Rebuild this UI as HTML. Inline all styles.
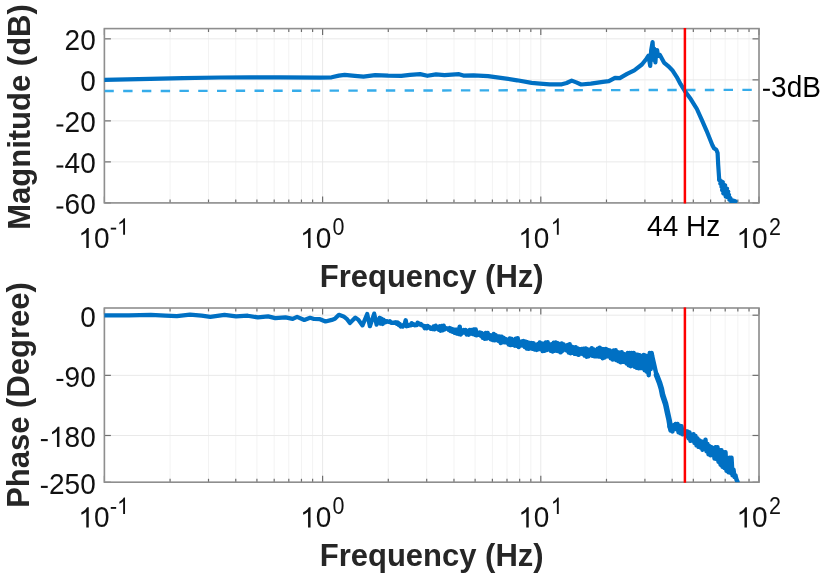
<!DOCTYPE html>
<html><head><meta charset="utf-8"><style>
html,body{margin:0;padding:0;background:#fff;width:827px;height:579px;overflow:hidden}
svg{display:block;will-change:transform}
text{font-family:"Liberation Sans",sans-serif;fill:#1a1a1a}
.tk{font-size:28px}
.sup{font-size:21px}
.lb{font-size:31px;font-weight:bold;fill:#262626}
.an{font-size:28px;fill:#000}
</style></head><body>
<svg width="827" height="579" viewBox="0 0 827 579">
<line x1="170.08" y1="28.60" x2="170.08" y2="202.90" stroke="#f3f3f3" stroke-width="1" />
<line x1="208.51" y1="28.60" x2="208.51" y2="202.90" stroke="#f3f3f3" stroke-width="1" />
<line x1="235.77" y1="28.60" x2="235.77" y2="202.90" stroke="#f3f3f3" stroke-width="1" />
<line x1="256.92" y1="28.60" x2="256.92" y2="202.90" stroke="#f3f3f3" stroke-width="1" />
<line x1="274.19" y1="28.60" x2="274.19" y2="202.90" stroke="#f3f3f3" stroke-width="1" />
<line x1="288.80" y1="28.60" x2="288.80" y2="202.90" stroke="#f3f3f3" stroke-width="1" />
<line x1="301.45" y1="28.60" x2="301.45" y2="202.90" stroke="#f3f3f3" stroke-width="1" />
<line x1="312.62" y1="28.60" x2="312.62" y2="202.90" stroke="#f3f3f3" stroke-width="1" />
<line x1="388.28" y1="28.60" x2="388.28" y2="202.90" stroke="#f3f3f3" stroke-width="1" />
<line x1="426.71" y1="28.60" x2="426.71" y2="202.90" stroke="#f3f3f3" stroke-width="1" />
<line x1="453.97" y1="28.60" x2="453.97" y2="202.90" stroke="#f3f3f3" stroke-width="1" />
<line x1="475.12" y1="28.60" x2="475.12" y2="202.90" stroke="#f3f3f3" stroke-width="1" />
<line x1="492.39" y1="28.60" x2="492.39" y2="202.90" stroke="#f3f3f3" stroke-width="1" />
<line x1="507.00" y1="28.60" x2="507.00" y2="202.90" stroke="#f3f3f3" stroke-width="1" />
<line x1="519.65" y1="28.60" x2="519.65" y2="202.90" stroke="#f3f3f3" stroke-width="1" />
<line x1="530.82" y1="28.60" x2="530.82" y2="202.90" stroke="#f3f3f3" stroke-width="1" />
<line x1="606.48" y1="28.60" x2="606.48" y2="202.90" stroke="#f3f3f3" stroke-width="1" />
<line x1="644.91" y1="28.60" x2="644.91" y2="202.90" stroke="#f3f3f3" stroke-width="1" />
<line x1="672.17" y1="28.60" x2="672.17" y2="202.90" stroke="#f3f3f3" stroke-width="1" />
<line x1="693.32" y1="28.60" x2="693.32" y2="202.90" stroke="#f3f3f3" stroke-width="1" />
<line x1="710.59" y1="28.60" x2="710.59" y2="202.90" stroke="#f3f3f3" stroke-width="1" />
<line x1="725.20" y1="28.60" x2="725.20" y2="202.90" stroke="#f3f3f3" stroke-width="1" />
<line x1="737.85" y1="28.60" x2="737.85" y2="202.90" stroke="#f3f3f3" stroke-width="1" />
<line x1="749.02" y1="28.60" x2="749.02" y2="202.90" stroke="#f3f3f3" stroke-width="1" />
<line x1="104.40" y1="28.60" x2="104.40" y2="202.90" stroke="#e9e9e9" stroke-width="1" />
<line x1="322.60" y1="28.60" x2="322.60" y2="202.90" stroke="#e9e9e9" stroke-width="1" />
<line x1="540.80" y1="28.60" x2="540.80" y2="202.90" stroke="#e9e9e9" stroke-width="1" />
<line x1="759.00" y1="28.60" x2="759.00" y2="202.90" stroke="#e9e9e9" stroke-width="1" />
<line x1="104.40" y1="38.85" x2="759.00" y2="38.85" stroke="#e9e9e9" stroke-width="1" />
<line x1="104.40" y1="79.86" x2="759.00" y2="79.86" stroke="#e9e9e9" stroke-width="1" />
<line x1="104.40" y1="120.88" x2="759.00" y2="120.88" stroke="#e9e9e9" stroke-width="1" />
<line x1="104.40" y1="161.89" x2="759.00" y2="161.89" stroke="#e9e9e9" stroke-width="1" />
<line x1="104.40" y1="202.90" x2="759.00" y2="202.90" stroke="#e9e9e9" stroke-width="1" />
<line x1="170.08" y1="308.00" x2="170.08" y2="482.20" stroke="#f3f3f3" stroke-width="1" />
<line x1="208.51" y1="308.00" x2="208.51" y2="482.20" stroke="#f3f3f3" stroke-width="1" />
<line x1="235.77" y1="308.00" x2="235.77" y2="482.20" stroke="#f3f3f3" stroke-width="1" />
<line x1="256.92" y1="308.00" x2="256.92" y2="482.20" stroke="#f3f3f3" stroke-width="1" />
<line x1="274.19" y1="308.00" x2="274.19" y2="482.20" stroke="#f3f3f3" stroke-width="1" />
<line x1="288.80" y1="308.00" x2="288.80" y2="482.20" stroke="#f3f3f3" stroke-width="1" />
<line x1="301.45" y1="308.00" x2="301.45" y2="482.20" stroke="#f3f3f3" stroke-width="1" />
<line x1="312.62" y1="308.00" x2="312.62" y2="482.20" stroke="#f3f3f3" stroke-width="1" />
<line x1="388.28" y1="308.00" x2="388.28" y2="482.20" stroke="#f3f3f3" stroke-width="1" />
<line x1="426.71" y1="308.00" x2="426.71" y2="482.20" stroke="#f3f3f3" stroke-width="1" />
<line x1="453.97" y1="308.00" x2="453.97" y2="482.20" stroke="#f3f3f3" stroke-width="1" />
<line x1="475.12" y1="308.00" x2="475.12" y2="482.20" stroke="#f3f3f3" stroke-width="1" />
<line x1="492.39" y1="308.00" x2="492.39" y2="482.20" stroke="#f3f3f3" stroke-width="1" />
<line x1="507.00" y1="308.00" x2="507.00" y2="482.20" stroke="#f3f3f3" stroke-width="1" />
<line x1="519.65" y1="308.00" x2="519.65" y2="482.20" stroke="#f3f3f3" stroke-width="1" />
<line x1="530.82" y1="308.00" x2="530.82" y2="482.20" stroke="#f3f3f3" stroke-width="1" />
<line x1="606.48" y1="308.00" x2="606.48" y2="482.20" stroke="#f3f3f3" stroke-width="1" />
<line x1="644.91" y1="308.00" x2="644.91" y2="482.20" stroke="#f3f3f3" stroke-width="1" />
<line x1="672.17" y1="308.00" x2="672.17" y2="482.20" stroke="#f3f3f3" stroke-width="1" />
<line x1="693.32" y1="308.00" x2="693.32" y2="482.20" stroke="#f3f3f3" stroke-width="1" />
<line x1="710.59" y1="308.00" x2="710.59" y2="482.20" stroke="#f3f3f3" stroke-width="1" />
<line x1="725.20" y1="308.00" x2="725.20" y2="482.20" stroke="#f3f3f3" stroke-width="1" />
<line x1="737.85" y1="308.00" x2="737.85" y2="482.20" stroke="#f3f3f3" stroke-width="1" />
<line x1="749.02" y1="308.00" x2="749.02" y2="482.20" stroke="#f3f3f3" stroke-width="1" />
<line x1="104.40" y1="308.00" x2="104.40" y2="482.20" stroke="#e9e9e9" stroke-width="1" />
<line x1="322.60" y1="308.00" x2="322.60" y2="482.20" stroke="#e9e9e9" stroke-width="1" />
<line x1="540.80" y1="308.00" x2="540.80" y2="482.20" stroke="#e9e9e9" stroke-width="1" />
<line x1="759.00" y1="308.00" x2="759.00" y2="482.20" stroke="#e9e9e9" stroke-width="1" />
<line x1="104.40" y1="315.20" x2="759.00" y2="315.20" stroke="#e9e9e9" stroke-width="1" />
<line x1="104.40" y1="375.35" x2="759.00" y2="375.35" stroke="#e9e9e9" stroke-width="1" />
<line x1="104.40" y1="435.49" x2="759.00" y2="435.49" stroke="#e9e9e9" stroke-width="1" />
<line x1="104.40" y1="482.27" x2="759.00" y2="482.27" stroke="#e9e9e9" stroke-width="1" />
<line x1="170.08" y1="202.90" x2="170.08" y2="199.50" stroke="#6e6e6e" stroke-width="1.2" />
<line x1="170.08" y1="28.60" x2="170.08" y2="32.00" stroke="#6e6e6e" stroke-width="1.2" />
<line x1="208.51" y1="202.90" x2="208.51" y2="199.50" stroke="#6e6e6e" stroke-width="1.2" />
<line x1="208.51" y1="28.60" x2="208.51" y2="32.00" stroke="#6e6e6e" stroke-width="1.2" />
<line x1="235.77" y1="202.90" x2="235.77" y2="199.50" stroke="#6e6e6e" stroke-width="1.2" />
<line x1="235.77" y1="28.60" x2="235.77" y2="32.00" stroke="#6e6e6e" stroke-width="1.2" />
<line x1="256.92" y1="202.90" x2="256.92" y2="199.50" stroke="#6e6e6e" stroke-width="1.2" />
<line x1="256.92" y1="28.60" x2="256.92" y2="32.00" stroke="#6e6e6e" stroke-width="1.2" />
<line x1="274.19" y1="202.90" x2="274.19" y2="199.50" stroke="#6e6e6e" stroke-width="1.2" />
<line x1="274.19" y1="28.60" x2="274.19" y2="32.00" stroke="#6e6e6e" stroke-width="1.2" />
<line x1="288.80" y1="202.90" x2="288.80" y2="199.50" stroke="#6e6e6e" stroke-width="1.2" />
<line x1="288.80" y1="28.60" x2="288.80" y2="32.00" stroke="#6e6e6e" stroke-width="1.2" />
<line x1="301.45" y1="202.90" x2="301.45" y2="199.50" stroke="#6e6e6e" stroke-width="1.2" />
<line x1="301.45" y1="28.60" x2="301.45" y2="32.00" stroke="#6e6e6e" stroke-width="1.2" />
<line x1="312.62" y1="202.90" x2="312.62" y2="199.50" stroke="#6e6e6e" stroke-width="1.2" />
<line x1="312.62" y1="28.60" x2="312.62" y2="32.00" stroke="#6e6e6e" stroke-width="1.2" />
<line x1="388.28" y1="202.90" x2="388.28" y2="199.50" stroke="#6e6e6e" stroke-width="1.2" />
<line x1="388.28" y1="28.60" x2="388.28" y2="32.00" stroke="#6e6e6e" stroke-width="1.2" />
<line x1="426.71" y1="202.90" x2="426.71" y2="199.50" stroke="#6e6e6e" stroke-width="1.2" />
<line x1="426.71" y1="28.60" x2="426.71" y2="32.00" stroke="#6e6e6e" stroke-width="1.2" />
<line x1="453.97" y1="202.90" x2="453.97" y2="199.50" stroke="#6e6e6e" stroke-width="1.2" />
<line x1="453.97" y1="28.60" x2="453.97" y2="32.00" stroke="#6e6e6e" stroke-width="1.2" />
<line x1="475.12" y1="202.90" x2="475.12" y2="199.50" stroke="#6e6e6e" stroke-width="1.2" />
<line x1="475.12" y1="28.60" x2="475.12" y2="32.00" stroke="#6e6e6e" stroke-width="1.2" />
<line x1="492.39" y1="202.90" x2="492.39" y2="199.50" stroke="#6e6e6e" stroke-width="1.2" />
<line x1="492.39" y1="28.60" x2="492.39" y2="32.00" stroke="#6e6e6e" stroke-width="1.2" />
<line x1="507.00" y1="202.90" x2="507.00" y2="199.50" stroke="#6e6e6e" stroke-width="1.2" />
<line x1="507.00" y1="28.60" x2="507.00" y2="32.00" stroke="#6e6e6e" stroke-width="1.2" />
<line x1="519.65" y1="202.90" x2="519.65" y2="199.50" stroke="#6e6e6e" stroke-width="1.2" />
<line x1="519.65" y1="28.60" x2="519.65" y2="32.00" stroke="#6e6e6e" stroke-width="1.2" />
<line x1="530.82" y1="202.90" x2="530.82" y2="199.50" stroke="#6e6e6e" stroke-width="1.2" />
<line x1="530.82" y1="28.60" x2="530.82" y2="32.00" stroke="#6e6e6e" stroke-width="1.2" />
<line x1="606.48" y1="202.90" x2="606.48" y2="199.50" stroke="#6e6e6e" stroke-width="1.2" />
<line x1="606.48" y1="28.60" x2="606.48" y2="32.00" stroke="#6e6e6e" stroke-width="1.2" />
<line x1="644.91" y1="202.90" x2="644.91" y2="199.50" stroke="#6e6e6e" stroke-width="1.2" />
<line x1="644.91" y1="28.60" x2="644.91" y2="32.00" stroke="#6e6e6e" stroke-width="1.2" />
<line x1="672.17" y1="202.90" x2="672.17" y2="199.50" stroke="#6e6e6e" stroke-width="1.2" />
<line x1="672.17" y1="28.60" x2="672.17" y2="32.00" stroke="#6e6e6e" stroke-width="1.2" />
<line x1="693.32" y1="202.90" x2="693.32" y2="199.50" stroke="#6e6e6e" stroke-width="1.2" />
<line x1="693.32" y1="28.60" x2="693.32" y2="32.00" stroke="#6e6e6e" stroke-width="1.2" />
<line x1="710.59" y1="202.90" x2="710.59" y2="199.50" stroke="#6e6e6e" stroke-width="1.2" />
<line x1="710.59" y1="28.60" x2="710.59" y2="32.00" stroke="#6e6e6e" stroke-width="1.2" />
<line x1="725.20" y1="202.90" x2="725.20" y2="199.50" stroke="#6e6e6e" stroke-width="1.2" />
<line x1="725.20" y1="28.60" x2="725.20" y2="32.00" stroke="#6e6e6e" stroke-width="1.2" />
<line x1="737.85" y1="202.90" x2="737.85" y2="199.50" stroke="#6e6e6e" stroke-width="1.2" />
<line x1="737.85" y1="28.60" x2="737.85" y2="32.00" stroke="#6e6e6e" stroke-width="1.2" />
<line x1="749.02" y1="202.90" x2="749.02" y2="199.50" stroke="#6e6e6e" stroke-width="1.2" />
<line x1="749.02" y1="28.60" x2="749.02" y2="32.00" stroke="#6e6e6e" stroke-width="1.2" />
<line x1="104.40" y1="202.90" x2="104.40" y2="196.40" stroke="#6e6e6e" stroke-width="1.2" />
<line x1="104.40" y1="28.60" x2="104.40" y2="35.10" stroke="#6e6e6e" stroke-width="1.2" />
<line x1="322.60" y1="202.90" x2="322.60" y2="196.40" stroke="#6e6e6e" stroke-width="1.2" />
<line x1="322.60" y1="28.60" x2="322.60" y2="35.10" stroke="#6e6e6e" stroke-width="1.2" />
<line x1="540.80" y1="202.90" x2="540.80" y2="196.40" stroke="#6e6e6e" stroke-width="1.2" />
<line x1="540.80" y1="28.60" x2="540.80" y2="35.10" stroke="#6e6e6e" stroke-width="1.2" />
<line x1="759.00" y1="202.90" x2="759.00" y2="196.40" stroke="#6e6e6e" stroke-width="1.2" />
<line x1="759.00" y1="28.60" x2="759.00" y2="35.10" stroke="#6e6e6e" stroke-width="1.2" />
<line x1="104.40" y1="38.85" x2="110.90" y2="38.85" stroke="#6e6e6e" stroke-width="1.2" />
<line x1="759.00" y1="38.85" x2="752.50" y2="38.85" stroke="#6e6e6e" stroke-width="1.2" />
<line x1="104.40" y1="79.86" x2="110.90" y2="79.86" stroke="#6e6e6e" stroke-width="1.2" />
<line x1="759.00" y1="79.86" x2="752.50" y2="79.86" stroke="#6e6e6e" stroke-width="1.2" />
<line x1="104.40" y1="120.88" x2="110.90" y2="120.88" stroke="#6e6e6e" stroke-width="1.2" />
<line x1="759.00" y1="120.88" x2="752.50" y2="120.88" stroke="#6e6e6e" stroke-width="1.2" />
<line x1="104.40" y1="161.89" x2="110.90" y2="161.89" stroke="#6e6e6e" stroke-width="1.2" />
<line x1="759.00" y1="161.89" x2="752.50" y2="161.89" stroke="#6e6e6e" stroke-width="1.2" />
<line x1="104.40" y1="202.90" x2="110.90" y2="202.90" stroke="#6e6e6e" stroke-width="1.2" />
<line x1="759.00" y1="202.90" x2="752.50" y2="202.90" stroke="#6e6e6e" stroke-width="1.2" />
<rect x="104.40" y="28.60" width="654.60" height="174.30" fill="none" stroke="#8e8e8e" stroke-width="1.6"/>
<line x1="170.08" y1="482.20" x2="170.08" y2="478.80" stroke="#6e6e6e" stroke-width="1.2" />
<line x1="170.08" y1="308.00" x2="170.08" y2="311.40" stroke="#6e6e6e" stroke-width="1.2" />
<line x1="208.51" y1="482.20" x2="208.51" y2="478.80" stroke="#6e6e6e" stroke-width="1.2" />
<line x1="208.51" y1="308.00" x2="208.51" y2="311.40" stroke="#6e6e6e" stroke-width="1.2" />
<line x1="235.77" y1="482.20" x2="235.77" y2="478.80" stroke="#6e6e6e" stroke-width="1.2" />
<line x1="235.77" y1="308.00" x2="235.77" y2="311.40" stroke="#6e6e6e" stroke-width="1.2" />
<line x1="256.92" y1="482.20" x2="256.92" y2="478.80" stroke="#6e6e6e" stroke-width="1.2" />
<line x1="256.92" y1="308.00" x2="256.92" y2="311.40" stroke="#6e6e6e" stroke-width="1.2" />
<line x1="274.19" y1="482.20" x2="274.19" y2="478.80" stroke="#6e6e6e" stroke-width="1.2" />
<line x1="274.19" y1="308.00" x2="274.19" y2="311.40" stroke="#6e6e6e" stroke-width="1.2" />
<line x1="288.80" y1="482.20" x2="288.80" y2="478.80" stroke="#6e6e6e" stroke-width="1.2" />
<line x1="288.80" y1="308.00" x2="288.80" y2="311.40" stroke="#6e6e6e" stroke-width="1.2" />
<line x1="301.45" y1="482.20" x2="301.45" y2="478.80" stroke="#6e6e6e" stroke-width="1.2" />
<line x1="301.45" y1="308.00" x2="301.45" y2="311.40" stroke="#6e6e6e" stroke-width="1.2" />
<line x1="312.62" y1="482.20" x2="312.62" y2="478.80" stroke="#6e6e6e" stroke-width="1.2" />
<line x1="312.62" y1="308.00" x2="312.62" y2="311.40" stroke="#6e6e6e" stroke-width="1.2" />
<line x1="388.28" y1="482.20" x2="388.28" y2="478.80" stroke="#6e6e6e" stroke-width="1.2" />
<line x1="388.28" y1="308.00" x2="388.28" y2="311.40" stroke="#6e6e6e" stroke-width="1.2" />
<line x1="426.71" y1="482.20" x2="426.71" y2="478.80" stroke="#6e6e6e" stroke-width="1.2" />
<line x1="426.71" y1="308.00" x2="426.71" y2="311.40" stroke="#6e6e6e" stroke-width="1.2" />
<line x1="453.97" y1="482.20" x2="453.97" y2="478.80" stroke="#6e6e6e" stroke-width="1.2" />
<line x1="453.97" y1="308.00" x2="453.97" y2="311.40" stroke="#6e6e6e" stroke-width="1.2" />
<line x1="475.12" y1="482.20" x2="475.12" y2="478.80" stroke="#6e6e6e" stroke-width="1.2" />
<line x1="475.12" y1="308.00" x2="475.12" y2="311.40" stroke="#6e6e6e" stroke-width="1.2" />
<line x1="492.39" y1="482.20" x2="492.39" y2="478.80" stroke="#6e6e6e" stroke-width="1.2" />
<line x1="492.39" y1="308.00" x2="492.39" y2="311.40" stroke="#6e6e6e" stroke-width="1.2" />
<line x1="507.00" y1="482.20" x2="507.00" y2="478.80" stroke="#6e6e6e" stroke-width="1.2" />
<line x1="507.00" y1="308.00" x2="507.00" y2="311.40" stroke="#6e6e6e" stroke-width="1.2" />
<line x1="519.65" y1="482.20" x2="519.65" y2="478.80" stroke="#6e6e6e" stroke-width="1.2" />
<line x1="519.65" y1="308.00" x2="519.65" y2="311.40" stroke="#6e6e6e" stroke-width="1.2" />
<line x1="530.82" y1="482.20" x2="530.82" y2="478.80" stroke="#6e6e6e" stroke-width="1.2" />
<line x1="530.82" y1="308.00" x2="530.82" y2="311.40" stroke="#6e6e6e" stroke-width="1.2" />
<line x1="606.48" y1="482.20" x2="606.48" y2="478.80" stroke="#6e6e6e" stroke-width="1.2" />
<line x1="606.48" y1="308.00" x2="606.48" y2="311.40" stroke="#6e6e6e" stroke-width="1.2" />
<line x1="644.91" y1="482.20" x2="644.91" y2="478.80" stroke="#6e6e6e" stroke-width="1.2" />
<line x1="644.91" y1="308.00" x2="644.91" y2="311.40" stroke="#6e6e6e" stroke-width="1.2" />
<line x1="672.17" y1="482.20" x2="672.17" y2="478.80" stroke="#6e6e6e" stroke-width="1.2" />
<line x1="672.17" y1="308.00" x2="672.17" y2="311.40" stroke="#6e6e6e" stroke-width="1.2" />
<line x1="693.32" y1="482.20" x2="693.32" y2="478.80" stroke="#6e6e6e" stroke-width="1.2" />
<line x1="693.32" y1="308.00" x2="693.32" y2="311.40" stroke="#6e6e6e" stroke-width="1.2" />
<line x1="710.59" y1="482.20" x2="710.59" y2="478.80" stroke="#6e6e6e" stroke-width="1.2" />
<line x1="710.59" y1="308.00" x2="710.59" y2="311.40" stroke="#6e6e6e" stroke-width="1.2" />
<line x1="725.20" y1="482.20" x2="725.20" y2="478.80" stroke="#6e6e6e" stroke-width="1.2" />
<line x1="725.20" y1="308.00" x2="725.20" y2="311.40" stroke="#6e6e6e" stroke-width="1.2" />
<line x1="737.85" y1="482.20" x2="737.85" y2="478.80" stroke="#6e6e6e" stroke-width="1.2" />
<line x1="737.85" y1="308.00" x2="737.85" y2="311.40" stroke="#6e6e6e" stroke-width="1.2" />
<line x1="749.02" y1="482.20" x2="749.02" y2="478.80" stroke="#6e6e6e" stroke-width="1.2" />
<line x1="749.02" y1="308.00" x2="749.02" y2="311.40" stroke="#6e6e6e" stroke-width="1.2" />
<line x1="104.40" y1="482.20" x2="104.40" y2="475.70" stroke="#6e6e6e" stroke-width="1.2" />
<line x1="104.40" y1="308.00" x2="104.40" y2="314.50" stroke="#6e6e6e" stroke-width="1.2" />
<line x1="322.60" y1="482.20" x2="322.60" y2="475.70" stroke="#6e6e6e" stroke-width="1.2" />
<line x1="322.60" y1="308.00" x2="322.60" y2="314.50" stroke="#6e6e6e" stroke-width="1.2" />
<line x1="540.80" y1="482.20" x2="540.80" y2="475.70" stroke="#6e6e6e" stroke-width="1.2" />
<line x1="540.80" y1="308.00" x2="540.80" y2="314.50" stroke="#6e6e6e" stroke-width="1.2" />
<line x1="759.00" y1="482.20" x2="759.00" y2="475.70" stroke="#6e6e6e" stroke-width="1.2" />
<line x1="759.00" y1="308.00" x2="759.00" y2="314.50" stroke="#6e6e6e" stroke-width="1.2" />
<line x1="104.40" y1="315.20" x2="110.90" y2="315.20" stroke="#6e6e6e" stroke-width="1.2" />
<line x1="759.00" y1="315.20" x2="752.50" y2="315.20" stroke="#6e6e6e" stroke-width="1.2" />
<line x1="104.40" y1="375.35" x2="110.90" y2="375.35" stroke="#6e6e6e" stroke-width="1.2" />
<line x1="759.00" y1="375.35" x2="752.50" y2="375.35" stroke="#6e6e6e" stroke-width="1.2" />
<line x1="104.40" y1="435.49" x2="110.90" y2="435.49" stroke="#6e6e6e" stroke-width="1.2" />
<line x1="759.00" y1="435.49" x2="752.50" y2="435.49" stroke="#6e6e6e" stroke-width="1.2" />
<line x1="104.40" y1="482.27" x2="110.90" y2="482.27" stroke="#6e6e6e" stroke-width="1.2" />
<line x1="759.00" y1="482.27" x2="752.50" y2="482.27" stroke="#6e6e6e" stroke-width="1.2" />
<rect x="104.40" y="308.00" width="654.60" height="174.20" fill="none" stroke="#8e8e8e" stroke-width="1.6"/>
<clipPath id="c1"><rect x="104.4" y="28.6" width="654.6" height="174.3"/></clipPath>
<clipPath id="c2"><rect x="104.4" y="308.0" width="654.6" height="174.2"/></clipPath>
<g clip-path="url(#c1)">
<line x1="104.4" y1="91.05" x2="759.0" y2="89.85" stroke="#36acea" stroke-width="2.4" stroke-dasharray="9.4 9.364"/>
<polyline points="104.4,79.8 150.0,78.9 183.0,78.2 220.0,77.5 250.0,77.3 280.0,77.3 320.0,77.6 331.6,77.3 338.9,75.6 344.7,74.8 354.8,75.8 363.5,76.6 375.2,75.1 388.2,75.6 401.3,75.8 410.0,74.8 420.1,74.1 427.4,75.8 436.0,74.4 444.5,75.1 459.0,74.2 463.4,75.6 473.5,75.3 488.0,76.1 502.6,78.1 517.1,80.3 531.6,82.9 540.0,83.6 549.7,84.4 561.8,84.3 566.6,83.0 571.7,80.6 576.3,82.4 581.1,84.5 590.8,83.6 602.9,81.8 608.9,81.2 615.0,77.9 619.8,78.1 627.1,73.9 634.3,70.3 641.9,64.5 646.7,58.5 648.5,55.7 650.2,66.0 651.2,50.0 652.6,42.0 653.6,60.0 654.3,48.8 655.4,62.3 656.2,52.0 657.1,50.2 658.1,56.0 659.9,55.0 664.0,62.6 668.2,66.1 672.3,70.2 676.8,77.1 680.6,84.2 684.8,90.9 690.9,99.3 696.9,109.0 701.8,119.9 706.6,130.8 710.3,140.0 712.3,145.0 714.0,148.3 716.3,149.8 717.6,153.0 718.2,165.0 719.2,179.3" fill="none" stroke="#0070c3" stroke-width="4.2" stroke-linejoin="round" stroke-linecap="round"/>
<polyline points="719.2,179.3 719.5,180.5 722.7,182.1 720.5,183.7 725.0,185.3 721.6,186.9 726.9,188.5 722.2,190.1 728.1,191.7 723.4,193.3 728.9,194.9 725.8,196.5 730.2,198.1 729.5,199.7 735.4,201.3 731.6,202.9" fill="none" stroke="#0070c3" stroke-width="4.4" stroke-linejoin="round" stroke-linecap="round"/>
</g>
<g clip-path="url(#c2)">
<polyline points="104.4,315.4 129.0,315.4 150.8,314.8 165.3,315.7 176.9,316.2 190.0,314.6 201.6,315.7 210.3,316.8 224.5,314.9 236.1,316.4 247.7,315.7 257.9,317.4 268.1,316.4 275.3,318.1 285.5,317.4 292.7,318.9 297.1,316.8 304.3,320.0 310.1,317.8 314.0,319.0 320.0,319.2 325.5,321.5 331.8,319.9 334.9,318.8 338.9,314.8 343.6,316.4 346.7,318.8 349.9,323.1 355.4,317.6 358.5,319.9 362.5,325.4 367.2,314.0 369.9,326.2 374.2,313.6 376.6,324.7 379.7,318.0" fill="none" stroke="#0070c3" stroke-width="4.2" stroke-linejoin="round" stroke-linecap="round"/>
<polyline points="379.7,318.0 379.7,320.0 380.7,323.6 381.7,319.0 382.7,323.9 383.7,320.0 384.7,322.4 385.7,322.1 386.7,321.2 387.7,321.5 388.7,321.9 389.7,321.2 390.7,322.5 391.7,322.9 392.7,322.8 393.7,322.8 394.7,322.5 395.7,322.3 396.7,323.6 397.7,322.6 398.7,324.9 399.7,324.0 400.7,326.5 401.7,325.6 402.7,326.5 403.7,324.9 404.7,324.3 405.7,320.3 406.7,326.2 407.7,325.5 408.7,325.7 409.7,324.8 410.7,325.2 411.7,323.3 412.7,324.7 413.7,324.2 414.7,325.2 415.7,325.1 416.7,325.1 417.7,322.7 418.7,323.6 419.7,324.4 420.7,323.9 421.7,325.3 422.7,325.4 423.7,325.9 424.7,328.1 425.7,326.2 426.7,328.2 427.7,326.0 428.7,327.6 429.7,327.2 430.7,328.7 431.7,328.4 432.7,329.0 433.7,326.4 434.7,329.2 435.7,325.7 436.7,328.6 437.7,327.5 438.7,329.7 439.7,326.3 440.7,330.7 441.7,325.9 442.7,330.3 443.7,325.7 444.7,329.4 445.7,328.6 446.7,328.3 447.7,328.6 448.7,329.8 449.7,328.1 450.7,331.0 451.7,328.9 452.7,331.8 453.7,329.6 454.7,332.7 455.7,329.7 456.7,333.5 457.7,329.4 458.7,334.1 459.7,326.6 460.7,334.6 461.7,332.5 462.7,332.7 463.7,330.0 464.7,332.6 465.7,330.0 466.7,334.4 467.7,331.1 468.7,334.7 469.7,330.0 470.7,333.4 471.7,330.0 472.7,333.9 473.7,329.5 474.7,334.7 475.7,329.5 476.7,335.3 477.7,333.1 478.7,334.6 479.7,332.5 480.7,335.7 481.7,333.1 482.7,337.8 483.7,334.1 484.7,338.8 485.7,333.0 486.7,338.6 487.7,332.9 488.7,337.7 489.7,335.1 490.7,339.2 491.7,335.5 492.7,340.1 493.7,334.0 494.7,340.3 495.7,335.1 496.7,340.1 497.7,336.4 498.7,341.0 499.7,336.6 500.7,343.0 501.7,336.6 502.7,342.4 503.7,337.8 504.7,342.3 505.7,339.1 506.7,342.5 507.7,339.9 508.7,344.4 509.7,338.5 510.7,345.1 511.7,339.0 512.7,344.9 513.7,340.2 514.7,345.7 515.7,338.8 516.7,345.9 517.7,338.1 518.7,347.0 519.7,341.7 520.7,345.6 521.7,341.4 522.7,345.5 523.7,341.1 524.7,347.0 525.7,341.7 526.7,348.5 527.7,342.3 528.7,348.9 529.7,343.0 530.7,348.2 531.7,343.1 532.7,348.8 533.7,343.3 534.7,349.5 535.7,345.2 536.7,349.9 537.7,344.3 538.7,349.2 539.7,342.5 540.7,349.3 541.7,343.4 542.7,351.1 543.7,343.7 544.7,350.7 545.7,342.5 546.7,350.1 547.7,342.2 548.7,349.4 549.7,344.6 550.7,350.7 551.7,344.2 552.7,351.5 553.7,342.8 554.7,350.8 555.7,342.5 556.7,350.8 557.7,343.2 558.7,351.3 559.7,344.2 560.7,352.4 561.7,343.4 562.7,350.7 563.7,344.4 564.7,349.4 565.7,346.0 566.7,350.6 567.7,345.1 568.7,352.5 569.7,344.2 570.7,353.3 571.7,346.6 572.7,352.7 573.7,347.5 574.7,353.9 575.7,347.1 576.7,354.1 577.7,348.5 578.7,354.9 579.7,349.1 580.7,353.6 581.7,349.0 582.7,354.1 583.7,348.7 584.7,355.6 585.7,348.4 586.7,356.8 587.7,349.5 588.7,356.2 589.7,349.7 590.7,354.7 591.7,348.1 592.7,355.9 593.7,349.4 594.7,356.4 595.7,350.7 596.7,356.3 597.7,348.7 598.7,356.5 599.7,347.6 600.7,356.7 601.7,349.0 602.7,358.3 603.7,349.3 604.7,357.5 605.7,349.0 606.7,356.3 607.7,349.8 608.7,356.4 609.7,350.5 610.7,358.2 611.7,351.4 612.7,359.6 613.7,350.4 614.7,359.3 615.7,350.2 616.7,360.2 617.7,352.2 618.7,361.2 619.7,352.6 620.7,362.3 621.7,352.3 622.7,361.8 623.7,354.0 624.7,362.0 625.7,354.6 626.7,363.6 627.7,352.9 628.7,365.4 629.7,352.9 630.7,366.2 631.7,353.0 632.7,365.5 633.7,353.0 634.7,366.9 635.7,354.5 636.7,367.8 637.7,354.6 638.7,368.4 639.7,355.3 640.7,368.0 641.7,356.2 642.7,368.2 643.7,355.0 644.7,370.4 645.7,355.7 646.7,371.7 647.7,357.8 648.7,375.2 649.7,353.0 650.7,369.1 651.7,353.0 652.2,356.0 654.5,366.0 656.5,375.0" fill="none" stroke="#0070c3" stroke-width="4.4" stroke-linejoin="round" stroke-linecap="round"/>
<polyline points="656.5,375.0 659.6,383.0 661.4,389.0 662.6,395.0 665.6,404.0 667.4,412.3 669.1,420.0 670.3,427.0" fill="none" stroke="#0070c3" stroke-width="5.6" stroke-linejoin="round" stroke-linecap="round"/>
<polyline points="669.5,426.2 670.5,430.4 671.5,427.4 672.5,431.4 673.5,425.3 674.5,428.8 675.5,423.9 676.5,429.3 677.5,423.9 678.5,432.3 679.5,425.6 680.5,433.3 681.5,426.3 682.5,434.2 683.5,430.0 684.5,434.2 685.5,431.0 686.5,435.9 687.5,431.5 688.5,438.3 689.5,432.5 690.5,440.9 691.5,434.9 692.5,440.5 693.5,434.2 694.5,442.9 695.5,436.0 696.5,445.4 697.5,438.4 698.5,446.9 699.5,440.5 700.5,447.5 701.5,441.4 702.5,449.7 703.5,442.4 704.5,448.6 705.5,439.6 706.5,451.4 707.5,443.9 708.5,454.3 709.5,446.1 710.5,455.2 711.5,447.1 712.5,455.1 713.5,448.2 714.5,458.5 715.5,447.2 716.5,459.0 717.5,447.2 718.5,461.9 719.5,449.9 720.5,464.7 721.5,450.3 722.5,466.9 723.5,452.1 724.5,468.0 725.5,452.1 726.5,470.8 727.5,459.8 728.5,472.2 729.5,457.7 730.5,472.9 731.5,457.7 732.5,475.3 733.5,469.6 734.5,477.0 735.5,475.4 736.5,479.8 737.5,481.8" fill="none" stroke="#0070c3" stroke-width="4.4" stroke-linejoin="round" stroke-linecap="round"/>
</g>
<line x1="684.9" y1="28.0" x2="684.9" y2="203.5" stroke="#ff0000" stroke-width="2.5"/>
<line x1="684.9" y1="307.4" x2="684.9" y2="482.8" stroke="#ff0000" stroke-width="2.5"/>
<path d="M88.75,248.10L86.29,248.10L86.29,232.42C85.70,232.98 84.92,233.55 83.97,234.11C83.00,234.67 82.13,235.10 81.37,235.39L81.37,233.01C82.75,232.36 83.95,231.57 84.98,230.65C86.00,229.74 86.74,228.84 87.16,227.98L88.75,227.98Z" fill="#111111"/>
<text x="93.89" y="0" transform="translate(0,248.10) scale(1,1.0405)" style="font-size:28.0px;fill:#111111">0</text>
<rect x="110.76" y="227.70" width="5.4" height="1.85" fill="#111111"/>
<path d="M125.03,234.80L123.14,234.80L123.14,221.95C122.69,222.41 122.09,222.88 121.36,223.34C120.61,223.80 119.95,224.15 119.36,224.38L119.36,222.44C120.42,221.91 121.35,221.26 122.14,220.51C122.92,219.76 123.49,219.02 123.82,218.31L125.03,218.31Z" fill="#111111"/>
<path d="M310.53,248.10L308.07,248.10L308.07,232.42C307.48,232.98 306.70,233.55 305.75,234.11C304.77,234.67 303.91,235.10 303.15,235.39L303.15,233.01C304.53,232.36 305.73,231.57 306.76,230.65C307.78,229.74 308.52,228.84 308.94,227.98L310.53,227.98Z" fill="#111111"/>
<text x="315.67" y="0" transform="translate(0,248.10) scale(1,1.0405)" style="font-size:28.0px;fill:#111111">0</text>
<text x="332.54" y="0" transform="translate(0,234.80) scale(1,1.11)" style="font-size:21.5px;fill:#111111">0</text>
<path d="M528.73,248.10L526.27,248.10L526.27,232.42C525.68,232.98 524.90,233.55 523.95,234.11C522.97,234.67 522.11,235.10 521.35,235.39L521.35,233.01C522.73,232.36 523.93,231.57 524.96,230.65C525.98,229.74 526.72,228.84 527.14,227.98L528.73,227.98Z" fill="#111111"/>
<text x="533.87" y="0" transform="translate(0,248.10) scale(1,1.0405)" style="font-size:28.0px;fill:#111111">0</text>
<path d="M558.75,234.80L556.86,234.80L556.86,221.95C556.41,222.41 555.81,222.88 555.08,223.34C554.33,223.80 553.67,224.15 553.08,224.38L553.08,222.44C554.14,221.91 555.07,221.26 555.86,220.51C556.64,219.76 557.21,219.02 557.54,218.31L558.75,218.31Z" fill="#111111"/>
<path d="M746.93,248.10L744.47,248.10L744.47,232.42C743.88,232.98 743.10,233.55 742.15,234.11C741.17,234.67 740.31,235.10 739.55,235.39L739.55,233.01C740.93,232.36 742.13,231.57 743.16,230.65C744.18,229.74 744.92,228.84 745.34,227.98L746.93,227.98Z" fill="#111111"/>
<text x="752.07" y="0" transform="translate(0,248.10) scale(1,1.0405)" style="font-size:28.0px;fill:#111111">0</text>
<text x="768.94" y="0" transform="translate(0,234.80) scale(1,1.11)" style="font-size:21.5px;fill:#111111">2</text>
<text x="431.70" y="0" transform="translate(0,286.90) scale(1,1.02)" text-anchor="middle" class="lb">Frequency (Hz)</text>
<path d="M88.75,527.40L86.29,527.40L86.29,511.72C85.70,512.28 84.92,512.85 83.97,513.41C83.00,513.97 82.13,514.40 81.37,514.69L81.37,512.31C82.75,511.66 83.95,510.87 84.98,509.95C86.00,509.04 86.74,508.14 87.16,507.27L88.75,507.27Z" fill="#111111"/>
<text x="93.89" y="0" transform="translate(0,527.40) scale(1,1.0405)" style="font-size:28.0px;fill:#111111">0</text>
<rect x="110.76" y="507.00" width="5.4" height="1.85" fill="#111111"/>
<path d="M125.03,514.10L123.14,514.10L123.14,501.25C122.69,501.71 122.09,502.18 121.36,502.64C120.61,503.10 119.95,503.45 119.36,503.68L119.36,501.74C120.42,501.21 121.35,500.56 122.14,499.81C122.92,499.06 123.49,498.32 123.82,497.61L125.03,497.61Z" fill="#111111"/>
<path d="M310.53,527.40L308.07,527.40L308.07,511.72C307.48,512.28 306.70,512.85 305.75,513.41C304.77,513.97 303.91,514.40 303.15,514.69L303.15,512.31C304.53,511.66 305.73,510.87 306.76,509.95C307.78,509.04 308.52,508.14 308.94,507.27L310.53,507.27Z" fill="#111111"/>
<text x="315.67" y="0" transform="translate(0,527.40) scale(1,1.0405)" style="font-size:28.0px;fill:#111111">0</text>
<text x="332.54" y="0" transform="translate(0,514.10) scale(1,1.11)" style="font-size:21.5px;fill:#111111">0</text>
<path d="M528.73,527.40L526.27,527.40L526.27,511.72C525.68,512.28 524.90,512.85 523.95,513.41C522.97,513.97 522.11,514.40 521.35,514.69L521.35,512.31C522.73,511.66 523.93,510.87 524.96,509.95C525.98,509.04 526.72,508.14 527.14,507.27L528.73,507.27Z" fill="#111111"/>
<text x="533.87" y="0" transform="translate(0,527.40) scale(1,1.0405)" style="font-size:28.0px;fill:#111111">0</text>
<path d="M558.75,514.10L556.86,514.10L556.86,501.25C556.41,501.71 555.81,502.18 555.08,502.64C554.33,503.10 553.67,503.45 553.08,503.68L553.08,501.74C554.14,501.21 555.07,500.56 555.86,499.81C556.64,499.06 557.21,498.32 557.54,497.61L558.75,497.61Z" fill="#111111"/>
<path d="M746.93,527.40L744.47,527.40L744.47,511.72C743.88,512.28 743.10,512.85 742.15,513.41C741.17,513.97 740.31,514.40 739.55,514.69L739.55,512.31C740.93,511.66 742.13,510.87 743.16,509.95C744.18,509.04 744.92,508.14 745.34,507.27L746.93,507.27Z" fill="#111111"/>
<text x="752.07" y="0" transform="translate(0,527.40) scale(1,1.0405)" style="font-size:28.0px;fill:#111111">0</text>
<text x="768.94" y="0" transform="translate(0,514.10) scale(1,1.11)" style="font-size:21.5px;fill:#111111">2</text>
<text x="431.70" y="0" transform="translate(0,566.20) scale(1,1.02)" text-anchor="middle" class="lb">Frequency (Hz)</text>
<text x="64.56 80.13" y="0" transform="translate(0,50.35) scale(1,1.0405)" style="font-size:28.0px;fill:#111111">20</text>
<text x="80.13" y="0" transform="translate(0,91.36) scale(1,1.0405)" style="font-size:28.0px;fill:#111111">0</text>
<rect x="56.48" y="124.43" width="6.84" height="2.10" fill="#111111"/>
<text x="64.56 80.13" y="0" transform="translate(0,132.38) scale(1,1.0405)" style="font-size:28.0px;fill:#111111">20</text>
<rect x="56.48" y="165.44" width="6.84" height="2.10" fill="#111111"/>
<text x="64.56 80.13" y="0" transform="translate(0,173.39) scale(1,1.0405)" style="font-size:28.0px;fill:#111111">40</text>
<rect x="56.48" y="206.45" width="6.84" height="2.10" fill="#111111"/>
<text x="64.56 80.13" y="0" transform="translate(0,214.40) scale(1,1.0405)" style="font-size:28.0px;fill:#111111">60</text>
<text x="80.13" y="0" transform="translate(0,326.70) scale(1,1.0405)" style="font-size:28.0px;fill:#111111">0</text>
<rect x="56.48" y="378.90" width="6.84" height="2.10" fill="#111111"/>
<text x="64.56 80.13" y="0" transform="translate(0,386.85) scale(1,1.0405)" style="font-size:28.0px;fill:#111111">90</text>
<rect x="40.90" y="439.04" width="6.84" height="2.10" fill="#111111"/>
<path d="M59.41,446.99L56.95,446.99L56.95,431.31C56.37,431.87 55.59,432.45 54.63,433.01C53.66,433.57 52.80,433.99 52.03,434.28L52.03,431.90C53.41,431.26 54.62,430.46 55.64,429.55C56.67,428.63 57.41,427.73 57.83,426.87L59.41,426.87Z" fill="#111111"/>
<text x="64.56 80.13" y="0" transform="translate(0,446.99) scale(1,1.0405)" style="font-size:28.0px;fill:#111111">80</text>
<rect x="40.90" y="485.83" width="6.84" height="2.10" fill="#111111"/>
<text x="48.98 64.56 80.13" y="0" transform="translate(0,493.77) scale(1,1.0405)" style="font-size:28.0px;fill:#111111">250</text>
<text transform="translate(30,117) rotate(-90)" text-anchor="middle" class="lb">Magnitude (dB)</text>
<text transform="translate(29,395) rotate(-90)" text-anchor="middle" class="lb">Phase (Degree)</text>
<text x="647.10 662.67 686.02 706.24" y="0" transform="translate(0,235.80) scale(1,1.0405)" style="font-size:28.0px;fill:#000">44Hz</text>
<rect x="763.04" y="88.75" width="6.84" height="2.10" fill="#000"/>
<text x="771.12 786.70 802.27" y="0" transform="translate(0,96.70) scale(1,1.0405)" style="font-size:28.0px;fill:#000">3dB</text>
</svg></body></html>
